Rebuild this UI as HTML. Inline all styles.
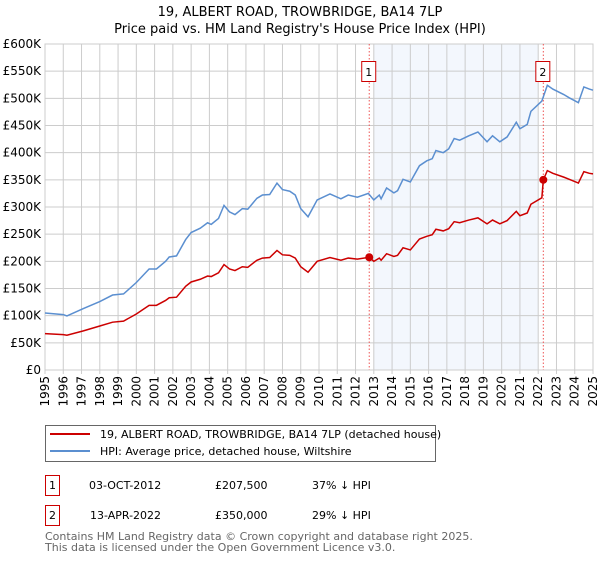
<!DOCTYPE html>
<html><head><meta charset="utf-8"><style>
body{margin:0;background:#fff;font-family:"DejaVu Sans","Liberation Sans",sans-serif;}
svg text{font-family:"DejaVu Sans","Liberation Sans",sans-serif;}
</style></head><body>
<svg id="c" width="600" height="560" xmlns="http://www.w3.org/2000/svg">
<text x="300" y="16" text-anchor="middle" font-size="13">19, ALBERT ROAD, TROWBRIDGE, BA14 7LP</text>
<text x="300" y="33" text-anchor="middle" font-size="13">Price paid vs. HM Land Registry's House Price Index (HPI)</text>
<g id="plot"></g>
<g>
<rect x="45.5" y="425.5" width="390" height="36" fill="#fff" stroke="#666"/>
<line x1="50" y1="434" x2="90" y2="434" stroke="#cc0000" stroke-width="2"/>
<text x="100" y="438" font-size="11">19, ALBERT ROAD, TROWBRIDGE, BA14 7LP (detached house)</text>
<line x1="50" y1="451" x2="90" y2="451" stroke="#5b8fd0" stroke-width="2"/>
<text x="100" y="455" font-size="11">HPI: Average price, detached house, Wiltshire</text>
</g>
<g font-size="11">
<rect x="45.5" y="475.5" width="14" height="20" fill="#fff" stroke="#cc0000"/>
<text x="52.5" y="489" text-anchor="middle">1</text>
<text x="89" y="489">03-OCT-2012</text><text x="215" y="489">£207,500</text><text x="312" y="489">37% ↓ HPI</text>
<rect x="45.5" y="505.5" width="14" height="20" fill="#fff" stroke="#cc0000"/>
<text x="52.5" y="519" text-anchor="middle">2</text>
<text x="90" y="519">13-APR-2022</text><text x="215" y="519">£350,000</text><text x="312" y="519">29% ↓ HPI</text>
</g>
<text x="45" y="540" font-size="11" fill="#666">Contains HM Land Registry data © Crown copyright and database right 2025.</text>
<text x="45" y="551" font-size="11" fill="#666">This data is licensed under the Open Government Licence v3.0.</text>
</svg>
<script>
const hpiYears=[1995,1996,1996.2,1997.1,1998,1998.7,1999.3,2000,2000.7,2001.1,2001.6,2001.8,2002.2,2002.7,2003,2003.5,2003.9,2004.1,2004.5,2004.8,2005.1,2005.4,2005.8,2006.1,2006.6,2006.9,2007.3,2007.7,2008,2008.4,2008.7,2009,2009.4,2009.9,2010.6,2011.2,2011.6,2012.1,2012.7,2013,2013.3,2013.4,2013.7,2014.1,2014.3,2014.6,2015,2015.5,2015.9,2016.2,2016.4,2016.8,2017.1,2017.4,2017.7,2018.2,2018.7,2019.2,2019.5,2019.9,2020.3,2020.8,2021,2021.4,2021.6,2022.2,2022.5,2022.8,2023.4,2023.7,2024.2,2024.5,2024.8,2025];
const hpiValues=[105,102,99.5,113,126,138,140,161,186,186,200,208,210,240,253,261,271,268,279,303,291,286,297,296,316,322,323,344,332,329,322,297,282,313,324,315,322,318,325,313,322,315,335,326,330,351,346,376,385,389,404,400,407,426,423,431,438,420,431,420,429,456,444,452,476,495,524,517,507,501,492,521,517,515];
const priceYears=[1995,1996,1996.2,1997.1,1998,1998.7,1999.3,2000,2000.7,2001.1,2001.6,2001.8,2002.2,2002.7,2003,2003.5,2003.9,2004.1,2004.5,2004.8,2005.1,2005.4,2005.8,2006.1,2006.6,2006.9,2007.3,2007.7,2008,2008.4,2008.7,2009,2009.4,2009.9,2010.6,2011.2,2011.6,2012.1,2012.75,2013,2013.3,2013.4,2013.7,2014.1,2014.3,2014.6,2015,2015.5,2015.9,2016.2,2016.4,2016.8,2017.1,2017.4,2017.7,2018.2,2018.7,2019.2,2019.5,2019.9,2020.3,2020.8,2021,2021.4,2021.6,2022.2,2022.28,2022.5,2022.8,2023.4,2023.7,2024.2,2024.5,2024.8,2025];
const priceValues=[67,65,64,72,81,88,90,103,119,119,128,133,134,154,162,167,173,172,179,194,186,183,190,189,202,206,207,220,212,211,206,190,180,200,207,202,206,204,207.5,200,206,202,214,209,211,225,221,241,246,249,259,256,260,273,271,276,280,269,276,269,275,292,284,289,305,317,350,367,362,355,351,344,365,362,361];
const saleYears=[2012.75,2022.28];
const saleValues=[207.5,350];
const saleLabels=["1","2"];
const yTicks=[0,50,100,150,200,250,300,350,400,450,500,550,600];
const yTickLabels=["£0","£50K","£100K","£150K","£200K","£250K","£300K","£350K","£400K","£450K","£500K","£550K","£600K"];
const xTicks=[1995,1996,1997,1998,1999,2000,2001,2002,2003,2004,2005,2006,2007,2008,2009,2010,2011,2012,2013,2014,2015,2016,2017,2018,2019,2020,2021,2022,2023,2024,2025];
const shadeRange=[2013,2022];

const NS="http://www.w3.org/2000/svg";
const L=45,R=593,T=44,B=370;
const xs=y=>L+(y-1995)/30*(R-L);
const ys=v=>B-v/600*(B-T);
const g=document.getElementById('plot');
function mk(t,a){const e=document.createElementNS(NS,t);for(const k in a)e.setAttribute(k,a[k]);g.appendChild(e);return e;}
const sh=mk('rect',{x:xs(shadeRange[0]),y:T,width:xs(shadeRange[1])-xs(shadeRange[0]),height:B-T,fill:'#eef3fc',opacity:0.7});


yTicks.forEach((v,i)=>{
 const l=mk('line',{x1:L,x2:R,y1:ys(v),y2:ys(v),stroke:'#cccccc'});
 
 
 const t=mk('text',{x:L-4,y:ys(v)+4,'text-anchor':'end','font-size':12});
 t.textContent=yTickLabels[i];
 
 
});
xTicks.forEach(y=>{
 const l=mk('line',{x1:xs(y),x2:xs(y),y1:T,y2:B+4,stroke:'#cccccc'});
 
 
 const t=mk('text',{x:0,y:0,'text-anchor':'end','font-size':12,transform:`translate(${xs(y)+4},${B+6}) rotate(-90)`});
 t.textContent=y;
 
 
});
const bd=mk('rect',{x:L,y:T,width:R-L,height:B-T,fill:'none',stroke:'#cccccc'});


saleYears.forEach((y,i)=>{
 const l=mk('line',{x1:xs(y),x2:xs(y),y1:T,y2:B,stroke:'#ee5555','stroke-dasharray':'1.5,2','stroke-width':1});
 
 
 const r=mk('rect',{x:xs(y)-7.5,y:T+17.5,width:14,height:20,fill:'#fff',stroke:'#cc0000'});
 
 
 const t=mk('text',{x:xs(y)-0.5,y:T+32,'text-anchor':'middle','font-size':11});
 t.textContent=saleLabels[i];
 
 
});
const hp=mk('polyline',{points:hpiYears.map((y,i)=>xs(y)+','+ys(hpiValues[i])).join(' '),fill:'none',stroke:'#5b8fd0','stroke-width':1.5});


const pp=mk('polyline',{points:priceYears.map((y,i)=>xs(y)+','+ys(priceValues[i])).join(' '),fill:'none',stroke:'#cc0000','stroke-width':1.5});


saleYears.forEach((y,i)=>{
 const c=mk('circle',{cx:xs(y),cy:ys(saleValues[i]),r:4,fill:'#cc0000'});
 
 
});
</script>
</body></html>
